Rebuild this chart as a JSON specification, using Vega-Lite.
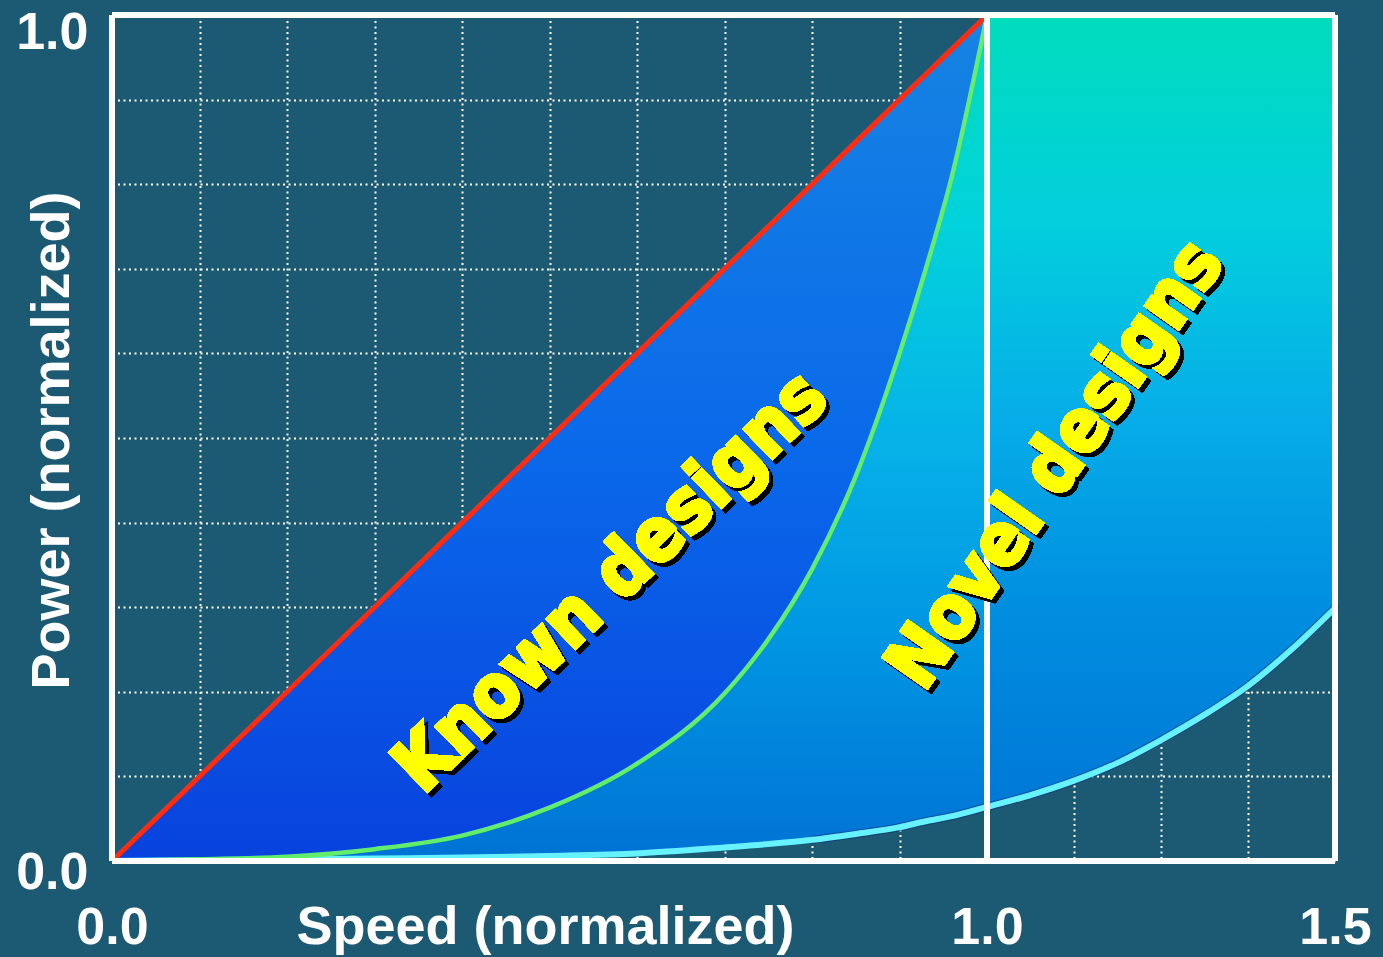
{
  "$schema": "https://vega.github.io/schema/vega-lite/v6.json",
  "width": 1223,
  "height": 846,
  "autosize": "none",
  "padding": {"left": 112, "top": 15, "right": 48, "bottom": 96},
  "background": "#1b5a72",
  "config": {
    "view": {"stroke": null},
    "axis": {
      "zindex": 1,
      "domain": false,
      "ticks": false,
      "tickSize": 0,
      "gridColor": "white",
      "gridWidth": 2,
      "gridDash": [2, 3.5],
      "gridOpacity": 1,
      "labelFont": "Liberation Sans",
      "labelFontWeight": "bold",
      "labelFontSize": 52,
      "labelColor": "white",
      "labelOverlap": false,
      "labelFlush": false,
      "titleFont": "Liberation Sans",
      "titleFontWeight": "bold",
      "titleFontSize": 54,
      "titleColor": "white"
    }
  },
  "datasets": {
    "curves": [
      {"speed": 0, "linear": 0, "known": 0, "novel": 0},
      {"speed": 0.1, "linear": 0.1, "known": 0.002, "novel": 0.001},
      {"speed": 0.2, "linear": 0.2, "known": 0.005, "novel": 0.002},
      {"speed": 0.3, "linear": 0.3, "known": 0.014, "novel": 0.003},
      {"speed": 0.4, "linear": 0.4, "known": 0.03, "novel": 0.004},
      {"speed": 0.5, "linear": 0.5, "known": 0.063, "novel": 0.006},
      {"speed": 0.6, "linear": 0.6, "known": 0.115, "novel": 0.009},
      {"speed": 0.7, "linear": 0.7, "known": 0.198, "novel": 0.016},
      {"speed": 0.75, "linear": 0.75, "known": 0.262, "novel": 0.02},
      {"speed": 0.8, "linear": 0.8, "known": 0.345, "novel": 0.025},
      {"speed": 0.85, "linear": 0.85, "known": 0.455, "novel": 0.032},
      {"speed": 0.9, "linear": 0.9, "known": 0.6, "novel": 0.04},
      {"speed": 0.93, "linear": 0.93, "known": 0.7, "novel": 0.047},
      {"speed": 0.96, "linear": 0.96, "known": 0.81, "novel": 0.053},
      {"speed": 1.0, "linear": 1.0, "known": 1.0, "novel": 0.064},
      {"speed": 1.0625, "linear": null, "known": null, "novel": 0.078},
      {"speed": 1.125, "linear": null, "known": null, "novel": 0.095},
      {"speed": 1.1875, "linear": null, "known": null, "novel": 0.116},
      {"speed": 1.25, "linear": null, "known": null, "novel": 0.143},
      {"speed": 1.3125, "linear": null, "known": null, "novel": 0.173},
      {"speed": 1.375, "linear": null, "known": null, "novel": 0.207},
      {"speed": 1.4375, "linear": null, "known": null, "novel": 0.25},
      {"speed": 1.5, "linear": null, "known": null, "novel": 0.299}
    ]
  },
  "data": {"name": "curves"},
  "layer": [
    {
      "transform": [{"filter": "datum.speed <= 1"}],
      "mark": {
        "type": "area",
        "interpolate": "monotone",
        "color": {
          "gradient": "linear", "x1": 0, "y1": 0, "x2": 0, "y2": 1,
          "stops": [
            {"offset": 0, "color": "#00dcbc"},
            {"offset": 0.25, "color": "#02d2dc"},
            {"offset": 0.5, "color": "#06b2e8"},
            {"offset": 0.75, "color": "#0094e2"},
            {"offset": 1, "color": "#0072d4"}
          ]
        }
      },
      "encoding": {
        "x": {
          "field": "speed",
          "type": "quantitative",
          "scale": {"domain": [0, 1, 1.5], "range": [0, 875, 1223], "nice": false, "zero": false},
          "axis": {
            "values": [0, 0.1, 0.2, 0.3, 0.4, 0.5, 0.6, 0.7, 0.8, 0.9, 1, 1.125, 1.25, 1.375, 1.5],
            "labelExpr": "datum.value == 0 || datum.value == 1 || datum.value == 1.5 ? format(datum.value, '.1f') : ''",
            "labelBaseline": "alphabetic",
            "labelPadding": 82,
            "title": "Speed (normalized)",
            "titleAnchor": "start",
            "titleAlign": "center",
            "titleBaseline": "alphabetic",
            "titleX": 433,
            "titleY": 82
          }
        },
        "y": {"field": "known", "type": "quantitative", "scale": {"domain": [0, 1], "nice": false},
          "axis": {
            "values": [0, 0.1, 0.2, 0.3, 0.4, 0.5, 0.6, 0.7, 0.8, 0.9, 1],
            "labelExpr": "datum.value == 0 || datum.value == 1 ? format(datum.value, '.1f') : ''",
            "labelBaseline": "alphabetic",
            "labelOffset": {"condition": {"test": "datum.value == 1", "value": 33}, "value": 27},
            "labelPadding": 24,
            "title": "Power (normalized)",
            "titleAngle": -90,
            "titleAlign": "center",
            "titleBaseline": "alphabetic",
            "titleAnchor": "start",
            "titleX": -44,
            "titleY": 425
          }
        },
        "y2": {"field": "novel"}
      }
    },
    {
      "transform": [{"filter": "datum.speed >= 1"}],
      "mark": {
        "type": "area",
        "interpolate": "monotone",
        "color": {
          "gradient": "linear", "x1": 0, "y1": 0, "x2": 0, "y2": 1,
          "stops": [
            {"offset": 0, "color": "#00dcbc"},
            {"offset": 0.25, "color": "#02d0dc"},
            {"offset": 0.5, "color": "#06aee8"},
            {"offset": 0.75, "color": "#008ee0"},
            {"offset": 1, "color": "#0078d6"}
          ]
        }
      },
      "encoding": {
        "x": {"field": "speed", "type": "quantitative"},
        "y": {"field": "novel", "type": "quantitative"},
        "y2": {"datum": 1}
      }
    },
    {
      "transform": [{"filter": "datum.speed <= 1"}],
      "mark": {
        "type": "area",
        "interpolate": "monotone",
        "color": {
          "gradient": "linear", "x1": 0, "y1": 0, "x2": 0, "y2": 1,
          "stops": [
            {"offset": 0, "color": "#1684e2"},
            {"offset": 0.5, "color": "#0a6aea"},
            {"offset": 1, "color": "#0842de"}
          ]
        }
      },
      "encoding": {
        "x": {"field": "speed", "type": "quantitative"},
        "y": {"field": "linear", "type": "quantitative"},
        "y2": {"field": "known"}
      }
    },
    {
      "transform": [{"filter": "datum.speed >= 0.8"}],
      "mark": {"type": "line", "interpolate": "monotone", "color": "#0c2a78", "strokeWidth": 8, "opacity": 0.55, "strokeCap": "round"},
      "encoding": {
        "x": {"field": "speed", "type": "quantitative"},
        "y": {"field": "novel", "type": "quantitative"}
      }
    },
    {
      "mark": {"type": "line", "interpolate": "monotone", "color": "#66f2ff", "strokeWidth": 6},
      "encoding": {
        "x": {"field": "speed", "type": "quantitative"},
        "y": {"field": "novel", "type": "quantitative"}
      }
    },
    {
      "mark": {"type": "line", "interpolate": "monotone", "color": "#62ee6a", "strokeWidth": 4.5},
      "encoding": {
        "x": {"field": "speed", "type": "quantitative"},
        "y": {"field": "known", "type": "quantitative"}
      }
    },
    {
      "mark": {"type": "line", "color": "#ff2c12", "strokeWidth": 5},
      "encoding": {
        "x": {"field": "speed", "type": "quantitative"},
        "y": {"field": "linear", "type": "quantitative"}
      }
    },
    {
      "mark": {"type": "rule", "color": "white", "strokeWidth": 6},
      "encoding": {"x": {"datum": 1, "type": "quantitative"}}
    },
    {
      "mark": {"type": "rule", "color": "white", "strokeWidth": 5},
      "encoding": {"x": {"datum": 0, "type": "quantitative"}}
    },
    {
      "mark": {"type": "rule", "color": "white", "strokeWidth": 5},
      "encoding": {"x": {"datum": 1.5, "type": "quantitative"}}
    },
    {
      "mark": {"type": "rule", "color": "white", "strokeWidth": 5},
      "encoding": {"y": {"datum": 0, "type": "quantitative"}}
    },
    {
      "mark": {"type": "rule", "color": "white", "strokeWidth": 5},
      "encoding": {"y": {"datum": 1, "type": "quantitative"}}
    },
    {
      "mark": {"type": "text", "text": "Known designs", "angle": -44, "dx": 0, "dy": 5.5, "font": "'DejaVu Sans Condensed', 'Liberation Sans', sans-serif", "fontWeight": "bold", "fontSize": 74, "align": "center", "baseline": "middle", "fill": "black", "opacity": 0.75, "stroke": "black", "strokeWidth": 3},
      "encoding": {"x": {"datum": 0.571, "type": "quantitative"}, "y": {"datum": 0.329, "type": "quantitative"}}
    },
    {
      "mark": {"type": "text", "text": "Known designs", "angle": -44, "font": "'DejaVu Sans Condensed', 'Liberation Sans', sans-serif", "fontWeight": "bold", "fontSize": 74, "align": "center", "baseline": "middle", "fill": "#ffff00", "stroke": "#ffff00", "strokeWidth": 3},
      "encoding": {"x": {"datum": 0.571, "type": "quantitative"}, "y": {"datum": 0.329, "type": "quantitative"}}
    },
    {
      "mark": {"type": "text", "text": "Novel designs", "angle": -55, "dx": -1, "dy": 5.5, "font": "'DejaVu Sans Condensed', 'Liberation Sans', sans-serif", "fontWeight": "bold", "fontSize": 74, "align": "center", "baseline": "middle", "fill": "black", "opacity": 0.75, "stroke": "black", "strokeWidth": 3},
      "encoding": {"x": {"datum": 1.1, "type": "quantitative"}, "y": {"datum": 0.468, "type": "quantitative"}}
    },
    {
      "mark": {"type": "text", "text": "Novel designs", "angle": -55, "font": "'DejaVu Sans Condensed', 'Liberation Sans', sans-serif", "fontWeight": "bold", "fontSize": 74, "align": "center", "baseline": "middle", "fill": "#ffff00", "stroke": "#ffff00", "strokeWidth": 3},
      "encoding": {"x": {"datum": 1.1, "type": "quantitative"}, "y": {"datum": 0.468, "type": "quantitative"}}
    }
  ]
}
